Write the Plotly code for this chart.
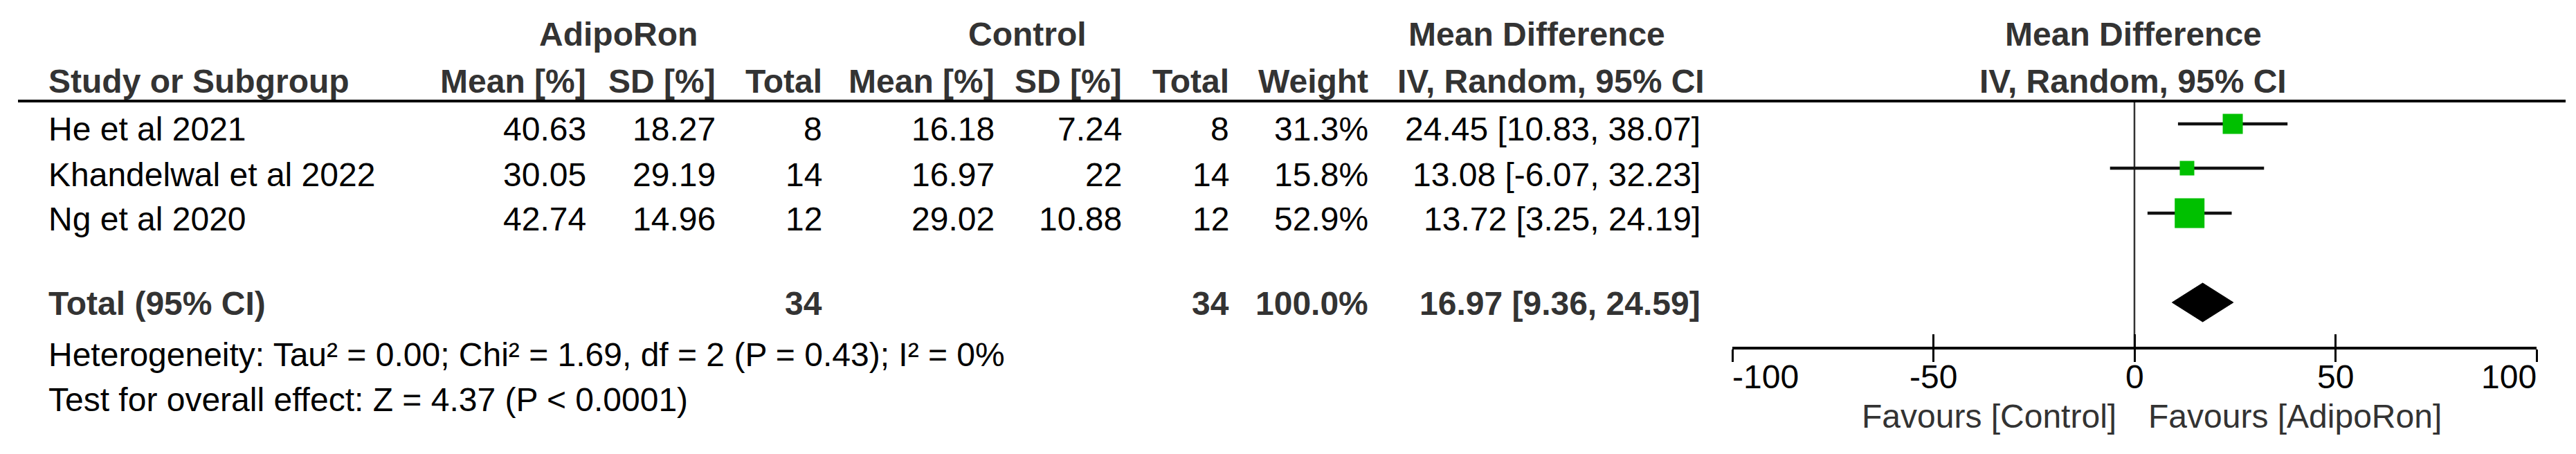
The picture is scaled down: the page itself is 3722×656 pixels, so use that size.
import plotly.graph_objects as go

# ---------------- data ----------------
studies = ["He et al 2021", "Khandelwal et al 2022", "Ng et al 2020"]
adipo_mean = [40.63, 30.05, 42.74]
adipo_sd = [18.27, 29.19, 14.96]
adipo_n = [8, 14, 12]
ctrl_mean = [16.18, 16.97, 29.02]
ctrl_sd = [7.24, 22, 10.88]
ctrl_n = [8, 14, 12]
weights = [31.3, 15.8, 52.9]
md = [24.45, 13.08, 13.72]
ci_lo = [10.83, -6.07, 3.25]
ci_hi = [38.07, 32.23, 24.19]

total_label = "Total (95% CI)"
total_adipo_n = 34
total_ctrl_n = 34
total_weight = 100.0
total_md = 16.97
total_lo = 9.36
total_hi = 24.59

heterogeneity_text = "Heterogeneity: Tau² = 0.00; Chi² = 1.69, df = 2 (P = 0.43); I² = 0%"
overall_text = "Test for overall effect: Z = 4.37 (P < 0.0001)"

group_headers = ["AdipoRon", "Control", "Mean Difference"]
col_headers = ["Study or Subgroup", "Mean [%]", "SD [%]", "Total",
               "Mean [%]", "SD [%]", "Total", "Weight", "IV, Random, 95% CI"]
plot_header = ["Mean Difference", "IV, Random, 95% CI"]
tick_vals = [-100, -50, 0, 50, 100]
tick_text = ["-100", "-50", "0", "50", "100"]
favours = ["Favours [Control]", "Favours [AdipoRon]"]

# ---------------- layout / style ----------------
W, H = 3722, 656
FONT = "Liberation Sans, Arial, sans-serif"
FS = 48
HEAD_COL = "#333333"
GREEN = "#00C000"
AXIS_Y = 501          # pixel row of the forest-plot axis
X_LEFT_PX, X_RIGHT_PX = 2503, 3665

# column anchors (pixel x) and alignment
STUDY_X = 70
COL_RIGHT = [847, 1034, 1188, 1437, 1621, 1776, 1977, 2457]
GROUP_CENTER = [893, 1484, 2220]
IV_CENTER = 2241
PLOT_CENTER = 3082

Y_HEAD1, Y_HEAD2 = 50, 117
ROW_TEXT_Y = [187, 252, 317]
ROW_MARK_Y = [179, 243, 308]
TOTAL_Y = 438
DIAMOND_Y = 437
DIAMOND_HALF = 28
HET_Y, TEST_Y = 512, 577
TICKLABEL_Y = 544
FAVOURS_Y = 601
HEADER_LINE_Y = 146
MARKER_PX = [29, 21, 43]


def px(x):
    return x / W


def py(y):
    return 1 - y / H


annotations = []


def txt(text, x, y, anchor="left", bold=False, color="black", size=FS, xref="paper"):
    annotations.append(dict(
        text=f"<b>{text}</b>" if bold else text,
        x=px(x) if xref == "paper" else x, y=py(y), xref=xref, yref="paper",
        xanchor=anchor, yanchor="middle", showarrow=False,
        borderpad=0, borderwidth=0,
        font=dict(family=FONT, size=size, color=color),
    ))


# header row 1
for label, cx in zip(group_headers, GROUP_CENTER):
    txt(label, cx, Y_HEAD1, "center", True, HEAD_COL)
txt(plot_header[0], PLOT_CENTER, Y_HEAD1, "center", True, HEAD_COL)

# header row 2
txt(col_headers[0], STUDY_X, Y_HEAD2, "left", True, HEAD_COL)
for label, rx in zip(col_headers[1:8], COL_RIGHT[:7]):
    txt(label, rx, Y_HEAD2, "right", True, HEAD_COL)
txt(col_headers[8], IV_CENTER, Y_HEAD2, "center", True, HEAD_COL)
txt(plot_header[1], PLOT_CENTER, Y_HEAD2, "center", True, HEAD_COL)

# study rows
for i, name in enumerate(studies):
    y = ROW_TEXT_Y[i]
    vals = [f"{adipo_mean[i]:g}", f"{adipo_sd[i]:g}", f"{adipo_n[i]}",
            f"{ctrl_mean[i]:g}", f"{ctrl_sd[i]:g}", f"{ctrl_n[i]}",
            f"{weights[i]:.1f}%",
            f"{md[i]:.2f} [{ci_lo[i]:.2f}, {ci_hi[i]:.2f}]"]
    txt(name, STUDY_X, y)
    for v, rx in zip(vals, COL_RIGHT):
        txt(v, rx, y, "right")

# total row
txt(total_label, STUDY_X, TOTAL_Y, "left", True, HEAD_COL)
txt(f"{total_adipo_n}", COL_RIGHT[2], TOTAL_Y, "right", True, HEAD_COL)
txt(f"{total_ctrl_n}", COL_RIGHT[5], TOTAL_Y, "right", True, HEAD_COL)
txt(f"{total_weight:.1f}%", COL_RIGHT[6], TOTAL_Y, "right", True, HEAD_COL)
txt(f"{total_md:.2f} [{total_lo:.2f}, {total_hi:.2f}]", COL_RIGHT[7], TOTAL_Y,
    "right", True, HEAD_COL)

# footer
txt(heterogeneity_text, STUDY_X, HET_Y)
txt(overall_text, STUDY_X, TEST_Y)

# tick labels on the x scale (end labels kept inside the axis extent)
for k, (tv, tt) in enumerate(zip(tick_vals, tick_text)):
    anchor = "left" if k == 0 else ("right" if k == len(tick_vals) - 1 else "center")
    txt(tt, tv, TICKLABEL_Y, anchor, False, "black", FS, xref="x")

# favours labels (positioned around the x scale zero)
txt(favours[0], 0, FAVOURS_Y, "right", False, HEAD_COL, FS, xref="x")
txt(favours[1], 0, FAVOURS_Y, "left", False, HEAD_COL, FS, xref="x")
annotations[-2]["xshift"] = -26
annotations[-1]["xshift"] = 20

fig = go.Figure()

# zero line
fig.add_trace(go.Scatter(x=[0, 0], y=[HEADER_LINE_Y, AXIS_Y], mode="lines",
                         line=dict(color="#333333", width=2.5),
                         hoverinfo="skip", showlegend=False))

# CI lines
for i in range(len(studies)):
    fig.add_trace(go.Scatter(x=[ci_lo[i], ci_hi[i]], y=[ROW_MARK_Y[i]] * 2,
                             mode="lines", line=dict(color="#111111", width=4.5),
                             hoverinfo="skip", showlegend=False))

# study squares
fig.add_trace(go.Scatter(x=md, y=ROW_MARK_Y, mode="markers",
                         marker=dict(symbol="square", size=MARKER_PX, color=GREEN,
                                     opacity=1, line=dict(width=0)),
                         hoverinfo="skip", showlegend=False))

# pooled diamond
fig.add_trace(go.Scatter(
    x=[total_lo, total_md, total_hi, total_md, total_lo],
    y=[DIAMOND_Y, DIAMOND_Y - DIAMOND_HALF, DIAMOND_Y, DIAMOND_Y + DIAMOND_HALF, DIAMOND_Y],
    mode="lines", fill="toself", fillcolor="black",
    line=dict(color="black", width=1), hoverinfo="skip", showlegend=False))

# invisible trace for the overlay axis (inside ticks)
fig.add_trace(go.Scatter(x=[0], y=[AXIS_Y - 1], xaxis="x2", yaxis="y", mode="markers",
                         marker=dict(opacity=0), hoverinfo="skip", showlegend=False))

shapes = [dict(type="line", xref="paper", yref="paper",
               x0=px(26), x1=px(3707), y0=py(HEADER_LINE_Y), y1=py(HEADER_LINE_Y),
               line=dict(color="black", width=4))]

dom_x = [px(X_LEFT_PX), px(X_RIGHT_PX)]
fig.update_layout(
    width=W, height=H,
    margin=dict(l=0, r=0, t=0, b=0),
    paper_bgcolor="white", plot_bgcolor="rgba(0,0,0,0)",
    annotations=annotations, shapes=shapes,
    xaxis=dict(domain=dom_x, range=[tick_vals[0], tick_vals[-1]],
               tickvals=tick_vals, showticklabels=False,
               showline=True, linecolor="black", linewidth=4,
               ticks="outside", ticklen=18, tickwidth=3, tickcolor="black",
               showgrid=False, zeroline=False,
               anchor="y", fixedrange=True),
    xaxis2=dict(domain=dom_x, overlaying="x", matches="x", anchor="y", side="bottom",
                tickvals=tick_vals, ticks="inside", ticklen=18, tickwidth=3,
                tickcolor="black", showticklabels=False, showline=False,
                showgrid=False, zeroline=False),
    yaxis=dict(domain=[1 - AXIS_Y / H, 1], range=[AXIS_Y, 0], visible=False,
               fixedrange=True),
    showlegend=False,
)

fig.write_html("out.html",
               config={"displayModeBar": False},
               post_script="document.body.style.margin='0';document.body.style.overflow='hidden';")
